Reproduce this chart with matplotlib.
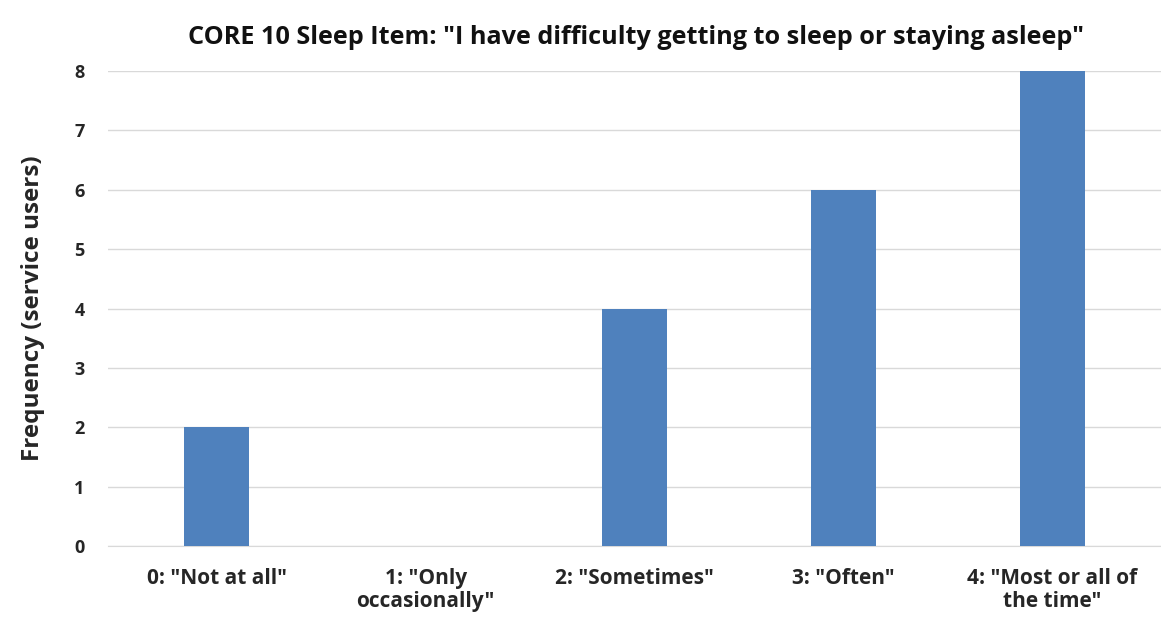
import numpy as np
import matplotlib.pyplot as plt

# data
categories = ['0: "Not at all"', '1: "Only\noccasionally"', '2: "Sometimes"',
              '3: "Often"', '4: "Most or all of\nthe time"']
frequency = [2, 0, 4, 6, 8]
yticks = [0, 1, 2, 3, 4, 5, 6, 7, 8]

plt.rcParams['font.family'] = ['Open Sans', 'DejaVu Sans']

fig = plt.figure(figsize=(11.61, 6.23), dpi=100)
ax = fig.add_axes([108 / 1161, 1 - 546 / 623, 1053 / 1161, 475 / 623])

x = np.arange(len(categories))
ax.bar(x, frequency, width=0.31, color='#4F81BD', zorder=3)

ax.set_xlim(-0.52, len(categories) - 0.48)
ax.set_ylim(0, 8)
ax.set_yticks(yticks)
ax.set_xticks(x)
ax.set_xticklabels(categories, fontsize=15, fontweight='bold', color='#262626',
                   linespacing=1.1)
ax.tick_params(axis='y', labelsize=13, length=0, pad=17, labelcolor='#262626')
ax.tick_params(axis='x', length=0, pad=16)
for lbl in ax.get_yticklabels():
    lbl.set_fontweight('bold')

ax.grid(axis='y', color='#d9d9d9', linewidth=1, zorder=0)
for s in ['top', 'right', 'left']:
    ax.spines[s].set_visible(False)
ax.spines['bottom'].set_color('#d9d9d9')

ax.set_ylabel('Frequency (service users)', fontsize=17.5, fontweight='bold',
              color='#262626', labelpad=21)
fig.text(0.548, 1 - 38 / 623, 'CORE 10 Sleep Item: "I have difficulty getting to sleep or staying asleep"',
         ha='center', va='center', fontsize=18.2, fontweight='bold', color='#111111')

fig.savefig('out.png', dpi=100)
